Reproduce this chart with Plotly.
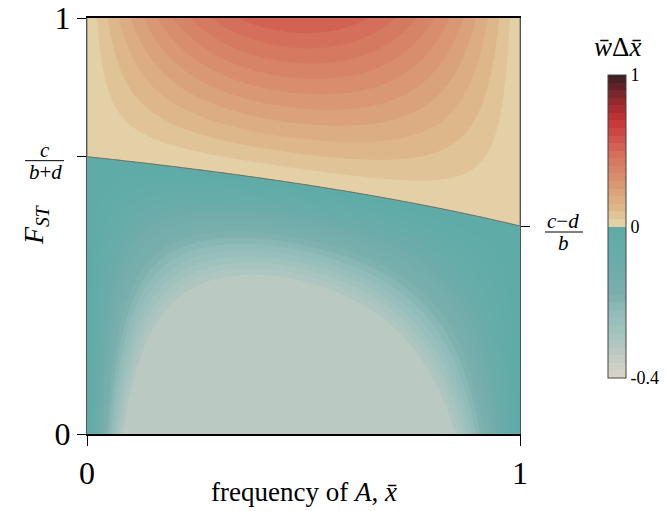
import numpy as np
import plotly.graph_objects as go

# ---- model parameters (payoff benefit b, cost c, synergy d) ----
b_val = 4.4
c_val = 4.4
d_val = 2.2

x_grid = np.linspace(0, 1, 301)      # frequency of A
F_grid = np.linspace(0, 1, 301)      # F_ST

pos_max = 1.0     # colorbar top label
neg_min = -0.4    # colorbar bottom label
cb_ticktext = ["-0.4", "0", "1"]

X, FF = np.meshgrid(x_grid, F_grid)
Z = X * (1 - X) * (FF * (b_val + d_val) + (1 - FF) * X * d_val - c_val)

# two-slope normalisation of the colour coordinate
T = np.where(Z >= 0, Z / pos_max, Z / abs(neg_min))
T = np.clip(T, -0.82, 1.0)

F_left = c_val / (b_val + d_val)
F_right = (c_val - d_val) / b_val


def p(t):
    return (t + 1) / 2


colorscale = [
    [p(-1.0), "rgb(218,213,199)"],
    [p(-0.85), "rgb(192,202,195)"],
    [p(-0.75), "rgb(170,197,191)"],
    [p(-0.6), "rgb(150,190,187)"],
    [p(-0.45), "rgb(122,176,173)"],
    [p(-0.3), "rgb(112,172,170)"],
    [p(-0.15), "rgb(100,172,169)"],
    [0.4999, "rgb(94,171,168)"],
    [0.5, "rgb(228,213,172)"],
    [p(0.05), "rgb(226,203,160)"],
    [p(0.1), "rgb(222,188,142)"],
    [p(0.2), "rgb(219,168,126)"],
    [p(0.3), "rgb(216,146,112)"],
    [p(0.4), "rgb(214,126,100)"],
    [p(0.5), "rgb(211,106,88)"],
    [p(0.6), "rgb(206,78,70)"],
    [p(0.7), "rgb(198,50,52)"],
    [p(0.8), "rgb(160,42,46)"],
    [p(0.9), "rgb(110,36,40)"],
    [p(1.0), "rgb(60,30,34)"],
]

FONT = "Liberation Serif"
PX = 1 / 416  # one pixel in F units (plot height 416 px)

fig = go.Figure()
fig.add_trace(go.Contour(
    x=x_grid, y=F_grid, z=T,
    colorscale=colorscale, zmin=-1, zmax=1,
    contours=dict(start=-1, end=1, size=0.05, coloring="fill"),
    line=dict(width=0),
    hoverinfo="skip",
    colorbar=dict(
        x=(608 - 87) / 433, xanchor="left", xref="paper", xpad=0, ypad=0,
        y=(434 - 226.5) / 416, yanchor="middle", len=303 / 416, lenmode="fraction",
        thickness=18, outlinewidth=1, outlinecolor="#444",
        tickvals=[-1, 0, 1], ticktext=cb_ticktext, ticks="",
        tickfont=dict(family=FONT, size=18, color="black"),
    ),
))
fig.add_trace(go.Contour(
    x=x_grid, y=F_grid, z=Z,
    contours=dict(start=0, end=0, size=1, coloring="none"),
    line=dict(color="rgba(110,100,85,0.9)", width=1),
    showscale=False, hoverinfo="skip",
))
fig.add_trace(go.Scatter(x=[0.5], y=[0.5], yaxis="y2", mode="markers",
                         marker=dict(opacity=0), showlegend=False, hoverinfo="skip"))

fig.update_layout(
    width=667, height=511,
    margin=dict(l=87, r=147, t=18, b=77, autoexpand=False),
    paper_bgcolor="white", plot_bgcolor="white",
    showlegend=False,
    font=dict(family=FONT, color="black"),
    xaxis=dict(range=[0, 1], tickvals=[0, 1], ticktext=["0", "1"],
               ticks="outside", ticklen=10, tickcolor="black",
               tickfont=dict(size=32), showgrid=False, zeroline=False,
               showline=True, linecolor="black", linewidth=1.5, mirror=True),
    yaxis=dict(range=[0, 1], tickvals=[0, 1], ticktext=["0", "1"],
               ticks="outside", ticklen=9, tickcolor="black",
               tickfont=dict(size=32), showgrid=False, zeroline=False,
               showline=True, linecolor="#555", linewidth=1, mirror=True,
               minor=dict(tickvals=[F_left], ticks="outside", ticklen=9,
                          tickcolor="black", showgrid=False)),
    yaxis2=dict(range=[0, 1], overlaying="y", side="right",
                tickvals=[F_right], showticklabels=False, ticks="outside", ticklen=9,
                tickcolor="black", showgrid=False, zeroline=False, showline=False),
)

L_line = F_left - 4 * PX
R_line = F_right - 6 * PX

ann = [
    dict(text="frequency of <i>A</i>, <i>x̄</i>", x=0.5, y=-0.14,
         xref="paper", yref="paper", showarrow=False, font=dict(size=27),
         xanchor="center", yanchor="middle"),
    dict(text="<i>F</i><sub><i>ST</i></sub>", x=-0.12, y=(434 - 225) / 416, textangle=-90,
         xref="paper", yref="paper", showarrow=False, font=dict(size=28),
         xanchor="center", yanchor="middle"),
    dict(text="<i>w̄</i>Δ<i>x̄</i>", x=(617 - 87) / 433, y=(434 - 47) / 416,
         xref="paper", yref="paper", showarrow=False, font=dict(size=27),
         xanchor="center", yanchor="middle"),
    # left fraction c/(b+d)
    dict(text="<i>c</i>", x=(45 - 87) / 433, y=L_line, yshift=-2, borderpad=0,
         xref="paper", yref="y", showarrow=False, font=dict(size=21),
         xanchor="center", yanchor="bottom"),
    dict(text="<i>b</i>+<i>d</i>", x=(45 - 87) / 433, y=L_line, yshift=2, borderpad=0,
         xref="paper", yref="y", showarrow=False, font=dict(size=21),
         xanchor="center", yanchor="top"),
    # right fraction (c-d)/b
    dict(text="<i>c</i>−<i>d</i>", x=(563 - 87) / 433, y=R_line, yshift=-2, borderpad=0,
         xref="paper", yref="y", showarrow=False, font=dict(size=21),
         xanchor="center", yanchor="bottom"),
    dict(text="<i>b</i>", x=(563 - 87) / 433, y=R_line, yshift=2, borderpad=0,
         xref="paper", yref="y", showarrow=False, font=dict(size=21),
         xanchor="center", yanchor="top"),
]
fig.update_layout(annotations=ann)

fig.add_shape(type="line", xref="paper", yref="y",
              x0=(25 - 87) / 433, x1=(64 - 87) / 433, y0=L_line, y1=L_line,
              line=dict(color="black", width=1))
fig.add_shape(type="line", xref="paper", yref="y",
              x0=(545 - 87) / 433, x1=(583 - 87) / 433, y0=R_line, y1=R_line,
              line=dict(color="black", width=1))

fig.write_html("out.html")
